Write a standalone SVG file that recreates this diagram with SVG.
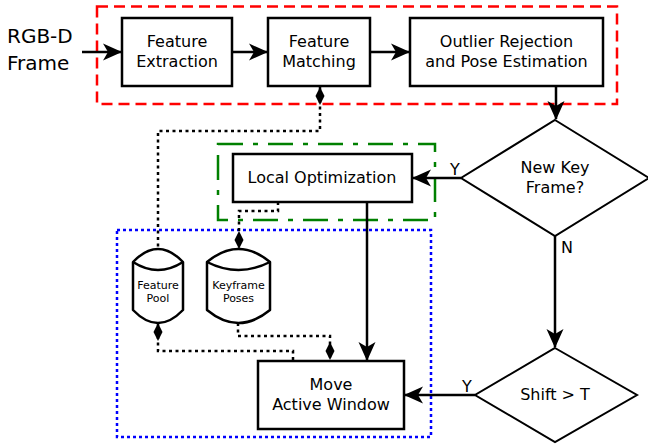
<svg xmlns="http://www.w3.org/2000/svg" width="648" height="444" viewBox="0 0 648 444">
<defs>
<style>
text{font-family:"DejaVu Sans","Liberation Sans",sans-serif;font-size:16px;fill:#000;text-anchor:middle}
.box{fill:#fff;stroke:#000;stroke-width:2.5}
.dia{fill:#fff;stroke:#000;stroke-width:2}
.cyl{fill:#fff;stroke:#000;stroke-width:2.5;stroke-linejoin:round}
.arrow{fill:none;stroke:#000;stroke-width:2.5;marker-end:url(#arr)}
.dot{fill:none;stroke:#000;stroke-width:2.5;stroke-dasharray:3 3.5}
.small{font-size:11px}
</style>
<marker id="arr" markerUnits="userSpaceOnUse" viewBox="-19 -10 21 20" markerWidth="21" markerHeight="20" refX="0" refY="0" orient="auto"><path d="M1,0 L-18,-8.5 L-13,0 L-18,8.5 Z" fill="#000"/></marker>
<marker id="diaS" markerUnits="userSpaceOnUse" viewBox="-1 -6 20 12" markerWidth="20" markerHeight="12" refX="0" refY="0" orient="auto"><path d="M0,0 L9,-4.5 L18,0 L9,4.5 Z" fill="#000"/></marker>
<marker id="diaE" markerUnits="userSpaceOnUse" viewBox="-19 -6 20 12" markerWidth="20" markerHeight="12" refX="0" refY="0" orient="auto"><path d="M0,0 L-9,-4.5 L-18,0 L-9,4.5 Z" fill="#000"/></marker>
</defs>
<rect width="648" height="444" fill="#fff"/>
<g id="groups">
<rect x="97" y="6.5" width="520" height="97.5" fill="none" stroke="#ff0000" stroke-width="2.5" stroke-dasharray="11 6"/>
<rect x="218" y="144" width="217" height="76" fill="none" stroke="#008000" stroke-width="2.5" stroke-dasharray="25 10 5 10"/>
<rect x="117" y="230" width="314" height="207" fill="none" stroke="#0000ff" stroke-width="2.5" stroke-dasharray="3 3"/>
</g>
<g id="input"><text x="7" y="43" style="font-size:20px;text-anchor:start">RGB-D</text><text x="7" y="70" style="font-size:20px;text-anchor:start">Frame</text></g>
<g id="feature-extraction"><rect class="box" x="122" y="18" width="110" height="68"/><text x="177" y="47">Feature</text><text x="177" y="67">Extraction</text></g>
<g id="feature-matching"><rect class="box" x="268" y="18" width="102" height="68"/><text x="319" y="47">Feature</text><text x="319" y="67">Matching</text></g>
<g id="outlier-rejection"><rect class="box" x="410" y="18" width="193" height="68"/><text x="506.5" y="47">Outlier Rejection</text><text x="506.5" y="67">and Pose Estimation</text></g>
<g id="new-key-frame"><polygon class="dia" points="555,120 649,178 555,236 461,178"/><text x="555" y="173">New Key</text><text x="555" y="193">Frame?</text></g>
<g id="local-optimization"><rect class="box" x="233" y="154" width="179" height="48"/><text x="322" y="183">Local Optimization</text></g>
<g id="shift"><polygon class="dia" points="555,348 637,395 555,442 475,395"/><text x="555" y="400">Shift &gt; T</text></g>
<g id="move-active-window"><rect class="box" x="258" y="361" width="146" height="68"/><text x="331" y="390">Move</text><text x="331" y="410">Active Window</text></g>
<g id="feature-pool"><path class="cyl" d="M133,262 Q158,236 183,262 V310 Q158,336 133,310 Z"/><path class="cyl" d="M133,262 Q158,278 183,262" fill="none"/><text class="small" x="158" y="289">Feature</text><text class="small" x="158" y="302">Pool</text></g>
<g id="keyframe-poses"><path class="cyl" d="M207,262 Q238.5,236 270,262 V310 Q238.5,336 207,310 Z"/><path class="cyl" d="M207,262 Q238.5,278 270,262" fill="none"/><text class="small" x="238.5" y="289">Keyframe</text><text class="small" x="238.5" y="302">Poses</text></g>
<g id="connectors">
<path class="arrow" d="M82,52 H121"/>
<path class="arrow" d="M232,52 H267"/>
<path class="arrow" d="M370,52 H409"/>
<path class="arrow" d="M556,86 V119"/>
<path class="arrow" d="M461,178 H413"/>
<path class="arrow" d="M555,236 V347"/>
<path class="arrow" d="M475,395 H405"/>
<path class="arrow" d="M367,202 V360"/>
<path class="dot" d="M320,87 V131 H158 V250" marker-start="url(#diaS)"/>
<path class="dot" d="M278,202 V211 H239 V249" marker-end="url(#diaE)"/>
<path class="dot" d="M158,323 V351 H293 V360" marker-start="url(#diaS)"/>
<path class="dot" d="M238,323 V336 H330 V360" marker-end="url(#diaE)"/>
<text x="455" y="175">Y</text>
<text x="567" y="253">N</text>
<text x="467" y="392">Y</text>
</g>
</svg>
